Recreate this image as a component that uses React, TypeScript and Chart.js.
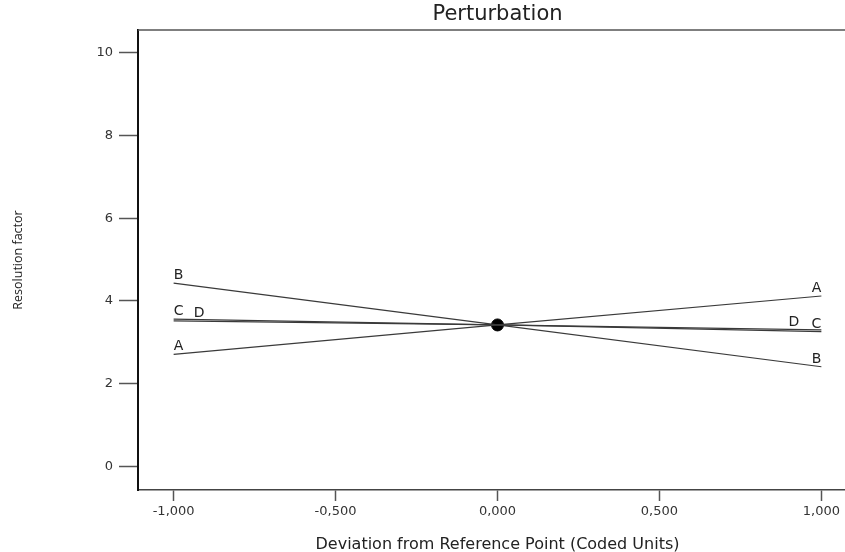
import React, { useEffect, useRef } from 'react';
import { Chart, registerables } from 'chart.js';

Chart.register(...registerables);

// ---- data ----
const xValues = [-1, 0, 1];
const seriesA = [2.71, 3.42, 4.12];
const seriesB = [4.43, 3.42, 2.41];
const seriesC = [3.56, 3.42, 3.26];
const seriesD = [3.52, 3.42, 3.3];
const seriesNames = ['A', 'B', 'C', 'D'];
const referencePoint = [{ x: 0, y: 3.42 }];

const xTickValues = [-1, -0.5, 0, 0.5, 1];
const xTickLabels = ['-1,000', '-0,500', '0,000', '0,500', '1,000'];
const yTickValues = [0, 2, 4, 6, 8, 10];
const yTickLabels = ['0', '2', '4', '6', '8', '10'];
const xRange = [-1.11, 1.11];
const yRange = [-0.57, 10.55];

const chartTitle = 'Perturbation';
const xTitle = 'Deviation from Reference Point (Coded Units)';
const yTitle = 'Resolution factor';

// label pixel nudges (style only)
const leftDx = [0, 0, 0, 20];
const rightDx = [0, 0, 0, -22];

const FONT = '"DejaVu Sans", "Open Sans", sans-serif';

const decorPlugin = {
  id: 'decor',
  afterDatasetsDraw(chart: any) {
    const ctx = chart.ctx;
    ctx.save();
    ctx.font = `14px ${FONT}`;
    ctx.fillStyle = '#222';
    ctx.textBaseline = 'alphabetic';
    seriesNames.forEach((name, i) => {
      const meta = chart.getDatasetMeta(i);
      const first = meta.data[0];
      const last = meta.data[meta.data.length - 1];
      ctx.textAlign = 'left';
      ctx.fillText(name, first.x + leftDx[i], first.y - 4);
      ctx.textAlign = 'right';
      ctx.fillText(name, last.x + rightDx[i], last.y - 4);
    });
    ctx.restore();
  },
  afterDraw(chart: any) {
    const ctx = chart.ctx;
    const { left, right, top } = chart.chartArea;
    ctx.save();
    ctx.strokeStyle = '#555';
    ctx.lineWidth = 1.5;
    ctx.beginPath();
    ctx.moveTo(left, top);
    ctx.lineTo(right, top);
    ctx.stroke();
    ctx.font = `21px ${FONT}`;
    ctx.fillStyle = '#222';
    ctx.textAlign = 'center';
    ctx.textBaseline = 'middle';
    ctx.fillText(chartTitle, (left + right) / 2, 15);
    ctx.restore();
  },
};

export default function App() {
  const ref = useRef<HTMLCanvasElement | null>(null);

  useEffect(() => {
    document.body.style.margin = '0';
    document.body.style.overflow = 'hidden';
    const canvas = ref.current;
    if (!canvas) return;
    const mk = (ys: number[]) => xValues.map((x, i) => ({ x, y: ys[i] }));
    const lineStyle = {
      showLine: true,
      borderColor: '#3a3a3a',
      borderWidth: 1.2,
      pointRadius: 0,
      pointHoverRadius: 0,
      fill: false,
    };
    const chart = new Chart(canvas, {
      type: 'scatter',
      data: {
        datasets: [
          { label: 'A', data: mk(seriesA), ...lineStyle },
          { label: 'B', data: mk(seriesB), ...lineStyle },
          { label: 'C', data: mk(seriesC), ...lineStyle },
          { label: 'D', data: mk(seriesD), ...lineStyle },
          {
            label: 'Reference',
            data: referencePoint,
            pointRadius: 6,
            pointBackgroundColor: '#000',
            pointBorderColor: '#000',
            showLine: false,
          },
        ],
      },
      options: {
        animation: false,
        responsive: false,
        layout: { padding: { top: 30, right: 0, bottom: 0, left: 0 } },
        plugins: {
          legend: { display: false },
          tooltip: { enabled: false },
          title: { display: false },
        },
        scales: {
          x: {
            type: 'linear',
            min: xRange[0],
            max: xRange[1],
            afterBuildTicks: (scale: any) => {
              scale.ticks = xTickValues.map((v) => ({ value: v }));
            },
            afterFit: (scale: any) => {
              scale.height = 62;
              scale.paddingLeft = 0;
              scale.paddingRight = 0;
            },
            grid: {
              drawOnChartArea: false,
              drawTicks: true,
              tickLength: 11,
              tickColor: '#555',
              tickWidth: 1.5,
            },
            border: { display: true, color: '#444', width: 1.5 },
            ticks: {
              autoSkip: false,
              maxRotation: 0,
              padding: 3,
              color: '#333',
              font: { family: FONT, size: 13 },
              callback: (v: any) => xTickLabels[xTickValues.indexOf(Number(v))] ?? '',
            },
            title: {
              display: true,
              text: xTitle,
              color: '#222',
              font: { family: FONT, size: 16, lineHeight: 0.9 },
              padding: { top: 0, bottom: 0 },
            },
          },
          y: {
            type: 'linear',
            min: yRange[0],
            max: yRange[1],
            afterBuildTicks: (scale: any) => {
              scale.ticks = yTickValues.map((v) => ({ value: v }));
            },
            afterFit: (scale: any) => {
              scale.width = 138;
              scale.paddingTop = 0;
              scale.paddingBottom = 0;
            },
            grid: {
              drawOnChartArea: false,
              drawTicks: true,
              tickLength: 19,
              tickColor: '#555',
              tickWidth: 1.5,
            },
            border: { display: true, color: '#111', width: 2 },
            ticks: {
              autoSkip: false,
              padding: 6,
              color: '#333',
              font: { family: FONT, size: 13 },
              callback: (v: any) => yTickLabels[yTickValues.indexOf(Number(v))] ?? '',
            },
            title: {
              display: true,
              text: yTitle,
              color: '#222',
              font: { family: '"Open Sans", sans-serif', size: 12.5 },
              padding: { top: 11, bottom: 0 },
            },
          },
        },
      },
      plugins: [decorPlugin],
    } as any);
    return () => chart.destroy();
  }, []);

  return (
    <div style={{ width: 845, height: 552, overflow: 'hidden' }}>
      <canvas ref={ref} width={864} height={552} style={{ display: 'block' }} />
    </div>
  );
}
